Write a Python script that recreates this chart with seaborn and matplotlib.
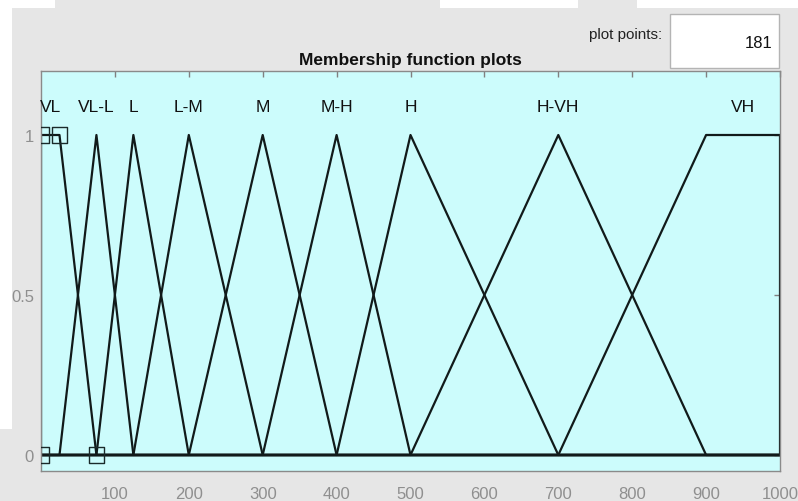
import matplotlib
matplotlib.use("Agg")
import matplotlib.pyplot as plt
import matplotlib.patches as mpatches
import numpy as np
import pandas as pd
import seaborn as sns

# Membership functions of the input variable (range 0..1000)
mf_names = ["VL", "VL-L", "L", "L-M", "M", "M-H", "H", "H-VH", "VH"]
mf_types = ["trap", "tri", "tri", "tri", "tri", "tri", "tri", "tri", "trap"]
mf_params = [
    [0, 0, 25, 75],
    [25, 75, 125],
    [75, 125, 200],
    [125, 200, 300],
    [200, 300, 400],
    [300, 400, 500],
    [400, 500, 700],
    [500, 700, 900],
    [700, 900, 1000, 1000],
]
x_range = [0, 1000]
y_range = [-0.05, 1.2]
x_ticks = [100, 200, 300, 400, 500, 600, 700, 800, 900, 1000]
y_ticks = [0, 0.5, 1]
y_ticklabels = ["0", "0.5", "1"]
plot_points = 181
selected_mf = "VL"

# Outline of each membership function over the whole range
rows = []
for name, kind, p in zip(mf_names, mf_types, mf_params):
    if kind == "tri":
        xs = [x_range[0], p[0], p[1], p[2], x_range[1]]
        ys = [0, 0, 1, 0, 0]
    else:
        xs = [x_range[0], p[0], p[1], p[2], p[3], x_range[1]]
        ys = [0, 0, 1, 1, 0, 0]
    for order, (xv, yv) in enumerate(zip(xs, ys)):
        rows.append({"mf": name, "order": order, "x": xv, "y": yv})
df = pd.DataFrame(rows)

sns.set_style("white")
plt.rcParams["font.family"] = ["Liberation Sans", "DejaVu Sans"]

fig = plt.figure(figsize=(7.98, 5.02), dpi=100, facecolor="#e6e6e6")

ax = fig.add_axes([41 / 798, 30 / 502, 739 / 798, 400 / 502])
ax.set_facecolor("#ccfcfc")

sns.lineplot(data=df, x="x", y="y", hue="mf", units="mf", estimator=None, sort=False,
             palette=["#111a1a"] * len(mf_names), linewidth=1.6, legend=False, ax=ax)

# vertices of the selected membership function
sel = df[(df["mf"] == selected_mf) & (df["order"].between(1, 4))]
sns.scatterplot(data=sel, x="x", y="y", marker="s", s=125, facecolor="none",
                edgecolor="#1a2a2a", linewidth=1.0, ax=ax, zorder=5, legend=False)

# labels above each function, centred on its peak
for name, kind, p in zip(mf_names, mf_types, mf_params):
    cx = p[1] if kind == "tri" else (p[1] + p[2]) / 2
    ax.text(cx, 1.09, name, ha="center", va="center", fontsize=12.5, color="#111111")

ax.set_xlim(*x_range)
ax.set_ylim(*y_range)
ax.set_xticks(x_ticks)
ax.set_yticks(y_ticks)
ax.set_yticklabels(y_ticklabels)
ax.set_xlabel("")
ax.set_ylabel("")
ax.tick_params(direction="in", length=4, width=1, color="#808080", labelcolor="#8f8f8f",
               labelsize=12, top=True, right=True, pad=5)
ax.tick_params(axis="x", pad=11)
for sp in ax.spines.values():
    sp.set_color("#8a8a8a")
    sp.set_linewidth(1)

ax.set_title("Membership function plots", fontsize=12.5, fontweight="bold", color="#111111", pad=5)

# plot points field
fig.text(662 / 798, 1 - 35 / 502, "plot points:", ha="right", va="center", fontsize=11, color="#222222")
fig.patches.append(mpatches.Rectangle((670 / 798, 1 - 69 / 502), 109 / 798, 54 / 502,
                                      transform=fig.transFigure, facecolor="white",
                                      edgecolor="#b4b4b4", linewidth=1, zorder=1))
fig.text(773 / 798, 1 - 43 / 502, str(plot_points), ha="right", va="center", fontsize=12, color="#111111")

# light strips along the top and left edges of the window
for (fx, fy, fw, fh) in [(0, 493, 55, 9), (440, 493, 138, 9), (637, 493, 161, 9), (0, 72, 12, 421)]:
    fig.add_artist(mpatches.Rectangle((fx / 798, fy / 502), fw / 798, fh / 502,
                                      transform=fig.transFigure, facecolor="white",
                                      edgecolor="none", zorder=10))

fig.savefig("out.png", dpi=100, facecolor=fig.get_facecolor())
